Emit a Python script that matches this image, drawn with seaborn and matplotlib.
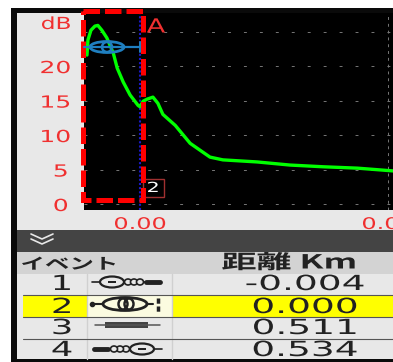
import matplotlib
matplotlib.use("Agg")
import matplotlib.pyplot as plt
from matplotlib.patches import Rectangle, Ellipse
from matplotlib.patheffects import AbstractPathEffect
from matplotlib.transforms import Affine2D
import pandas as pd
import seaborn as sns

# trace
dist_km = [-0.0107, -0.0105, -0.0099, -0.0091, -0.0085, -0.0077, -0.0067, -0.0054,
           -0.0046, -0.0034, -0.0020, -0.0004, 0.0, 0.0006, 0.0014, 0.0026, 0.0036,
           0.0046, 0.0071, 0.0101, 0.0121, 0.0141, 0.0167, 0.0236, 0.0302, 0.0369,
           0.0438, 0.0510]
loss_db = [21.6, 23.8, 25.2, 25.8, 25.9, 25.2, 24.1, 21.9, 19.7, 17.7, 15.8, 14.3,
           14.1, 14.9, 15.2, 15.5, 14.6, 13.0, 11.4, 8.8, 7.8, 6.8, 6.4, 6.1, 5.65,
           5.4, 5.2, 4.8]

y_ticks = [0, 5, 10, 15, 20, 25]
y_labels = ["0", "5", "10", "15", "20", ""]
x_ticks = [0.0, 0.05]
x_labels = ["0.00", "0.00"]

event_ids = ["1", "2", "3", "4"]
event_dist = ["-0.004", "0.000", "0.511", "0.534"]

W, H = 393, 362
RED = "#f03030"
DARK_RED = "#a03030"
BLUE = "#1f7fc0"
INK = "#222222"
CJK = ["Noto Sans CJK JP", "DejaVu Sans"]


class Widen(AbstractPathEffect):
    """Draw text wider than the font, about the middle of the string."""

    def __init__(self, sx):
        super().__init__()
        self.sx = sx

    def draw_path(self, renderer, gc, tpath, affine, rgbFace=None):
        ext = tpath.get_extents()
        cx = (ext.x0 + ext.x1) / 2
        wide = Affine2D().translate(-cx, 0).scale(self.sx, 1).translate(cx, 0)
        renderer.draw_path(gc, tpath, wide + affine, rgbFace)


sns.set_style("white")
plt.rcParams["font.family"] = ["DejaVu Sans", "Noto Sans CJK JP"]

fig = plt.figure(figsize=(W / 100, H / 100), dpi=100, facecolor="white")


def pixel_axes(zorder):
    ax = fig.add_axes([0, 0, 1, 1], zorder=zorder)
    ax.set_xlim(0, W)
    ax.set_ylim(H, 0)
    ax.axis("off")
    ax.patch.set_alpha(0)
    return ax


back = pixel_axes(0)
front = pixel_axes(2)

# device frame and panels
back.add_patch(Rectangle((11, 8), W - 11, H - 8, color="#0a0a0a", lw=0))
back.add_patch(Rectangle((17, 13), W - 17, 217, color="#e8e8e8", lw=0))
back.add_patch(Rectangle((17, 230), W - 17, 22, color="#444444", lw=0))
back.add_patch(Rectangle((17, 252), W - 17, 22, color="#d3d3d3", lw=0))
back.add_patch(Rectangle((17, 274), W - 17, 85, color="#e8e8e8", lw=0))

# collapse chevrons
for dy in (0, 5):
    back.plot([31, 42, 53], [234 + dy, 239 + dy, 234 + dy], color="#e8e8e8", lw=1.2)

back.text(69, 264, "イベント", fontsize=11, color=INK, weight="bold", family=CJK,
          va="center", ha="center", path_effects=[Widen(1.6)])
back.text(289, 263, "距離 Km", fontsize=14, color=INK, weight="bold", family=CJK,
          va="center", ha="center", path_effects=[Widen(1.8)])

row_y = [284, 307, 328, 350]

# selected event row
back.add_patch(Rectangle((23, 296), W - 23, 22, color="#ffff00", lw=0))
back.add_patch(Rectangle((87, 296), 85, 22, color="#fbfbe0", lw=0))

for x in (87, 172):
    back.plot([x, x], [274, 359], color="#d0d0d0", lw=1)
for y in (295, 317, 339):
    back.plot([23, W], [y, y], color="#555555", lw=0.8)

for rid, dist, y in zip(event_ids, event_dist, row_y):
    back.text(62, y, rid, fontsize=15, color=INK, ha="center", va="center",
              path_effects=[Widen(1.7)])
    back.text(305, y, dist, fontsize=15, color=INK, ha="center", va="center",
              path_effects=[Widen(1.8)])


def event_icon(ax, y, x0, flip, color):
    # connector symbol used in the event list, rows 1 and 4 are mirrored
    s = -1 if flip else 1
    ax.plot([x0, x0 + s * 68], [y, y], color=color, lw=1.2)
    ax.add_patch(Ellipse((x0 + s * 20, y), 24, 11, fc="#e8e8e8", ec=color, lw=1.6, zorder=3))
    ax.add_patch(Rectangle((x0 + s * 20 - 4, y - 1), 8, 2, color=color, lw=0, zorder=4))
    for off in (36, 42, 48):
        ax.add_patch(Ellipse((x0 + s * off, y), 7, 6, fc="#e8e8e8", ec=color, lw=1.2, zorder=3))
    ax.plot([x0 + s * 54, x0 + s * 68], [y, y], color=color, lw=3.5)


event_icon(back, 282, 92, False, INK)
event_icon(back, 349, 162, True, INK)

# event 2 icon
back.plot([92, 153], [304, 304], color=INK, lw=1.5)
back.plot([92], [304], "o", color=INK, ms=3)
back.add_patch(Ellipse((125, 304), 44, 13, fc="#fbfbe0", ec=INK, lw=2, zorder=3))
back.add_patch(Ellipse((123, 304), 9, 11, fc="#fbfbe0", ec=INK, lw=1.8, zorder=4))
back.add_patch(Ellipse((129, 304), 9, 11, fill=False, ec=INK, lw=1.8, zorder=4))
back.plot([158, 158], [298, 312], color=INK, lw=2.5, ls=(0, (1.5, 0.8)))

# event 3 icon
back.plot([95, 160], [325, 325], color="#555555", lw=1.1)
back.add_patch(Rectangle((105, 322), 43, 6, color="#444444", lw=0))

# trace
ax = fig.add_axes([84 / W, 1 - 210 / H, (W - 84) / W, 197 / H], zorder=1, facecolor="black")
trace = pd.DataFrame({"km": dist_km, "db": loss_db})
sns.lineplot(data=trace, x="km", y="db", ax=ax, color="#00ff00", lw=2.4, zorder=3)
ax.set_xlim(-0.0113, 0.0510)
ax.set_ylim(-0.87, 27.7)
ax.set_xticks(x_ticks)
ax.set_xticklabels(x_labels, path_effects=[Widen(1.5)])
ax.set_yticks(y_ticks)
ax.set_yticklabels(y_labels, path_effects=[Widen(1.5)])
ax.set_xlabel("")
ax.set_ylabel("")
ax.tick_params(axis="y", colors=DARK_RED, length=8, width=1, labelcolor=RED, labelsize=12, pad=5)
ax.tick_params(axis="x", colors=DARK_RED, length=4, width=1.5, labelcolor=RED, labelsize=11.5, pad=1)
ax.grid(True, axis="y", color="#777777", lw=0.7, ls=(0, (3, 13.4)))
for spine in ax.spines.values():
    spine.set_visible(False)
ax.axvline(0, color="#1a1ac8", lw=1.5, ls=(0, (1, 1)), zorder=2)
ax.axvline(0.05, color="#777777", lw=0.7, ls=(0, (3, 4)), zorder=1)

# overlays on top of the trace
front.add_patch(Rectangle((143, 179), 21, 18, fc="black", ec=DARK_RED, lw=1))
front.text(153, 188, "2", color="white", fontsize=10, ha="center", va="center",
           path_effects=[Widen(1.5)])
front.add_patch(Rectangle((83, 11), 60, 189, fill=False, ec="#ff0000", lw=3.6, ls=(0, (3.3, 1))))
front.text(56, 24, "dB", color=RED, fontsize=12, ha="center", va="center",
           path_effects=[Widen(1.4)])
front.text(156, 27, "A", color=RED, fontsize=14, ha="center", va="center",
           path_effects=[Widen(1.4)])
front.plot([84, 140], [47, 47], color=BLUE, lw=1.6)
front.plot([140, 140], [42, 52], color=BLUE, lw=1.4)
front.add_patch(Ellipse((107, 47), 34, 11, fill=False, ec=BLUE, lw=2))
front.add_patch(Ellipse((107, 47), 10, 10, fill=False, ec=BLUE, lw=1.8))

fig.savefig("out.png", dpi=100)
